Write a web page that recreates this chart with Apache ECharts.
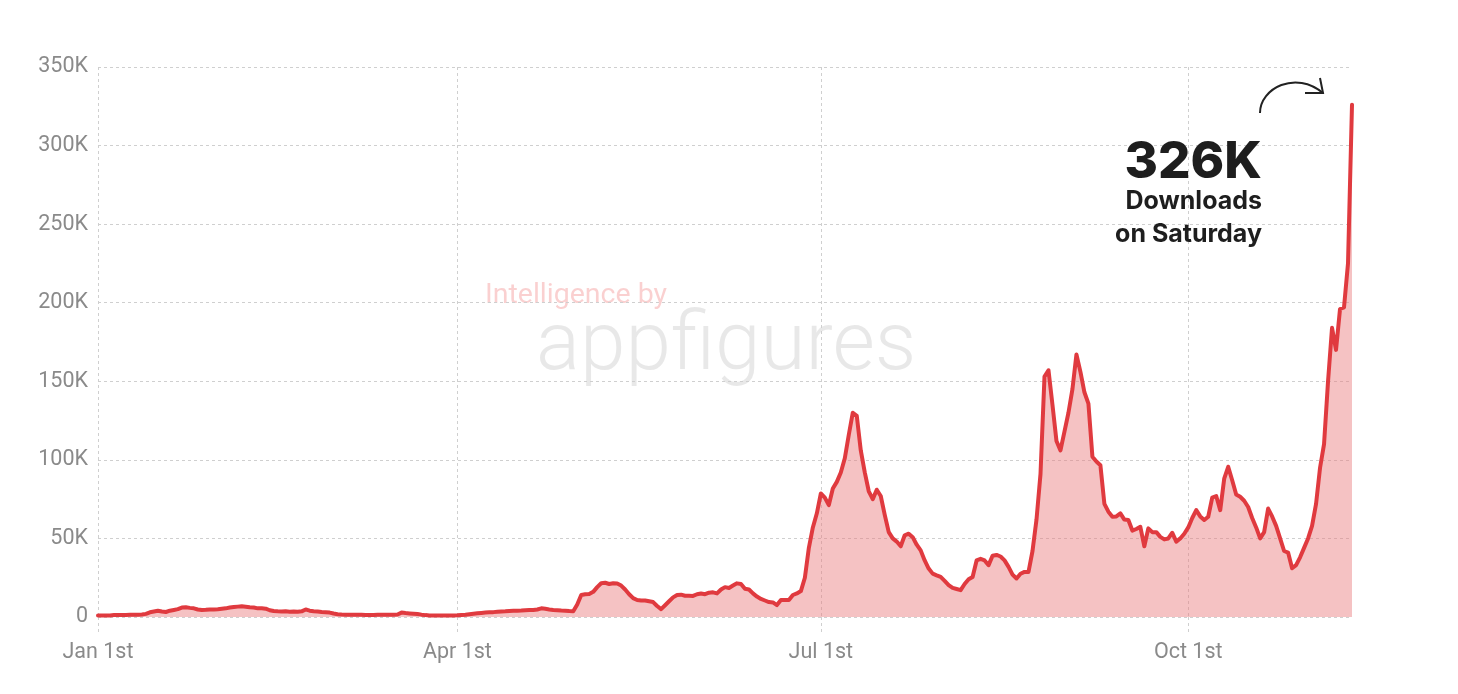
<!DOCTYPE html>
<html>
<head>
<meta charset="utf-8">
<title>Daily downloads</title>
<script src="https://cdn.jsdelivr.net/npm/echarts@6/dist/echarts.min.js"></script>
<style>
  html, body { margin: 0; padding: 0; background: #ffffff; }
  #chart { width: 1458px; height: 694px; }
</style>
</head>
<body>
<div id="chart"></div>
<script>
// daily downloads in thousands, 2023, one array per month
const jan = [1, 1, 1, 1, 1.2, 1.2, 1.3, 1.3, 1.4, 1.5, 1.5, 1.6, 2, 3, 3.5, 4, 3.5, 3.2, 4, 4.5, 5, 6, 6.2, 5.8, 5.5, 4.8, 4.5, 4.6, 4.8, 4.7, 4.9]
const feb = [5.2, 5.5, 6, 6.3, 6.6, 6.8, 6.5, 6.2, 6, 5.5, 5.6, 5.3, 4.3, 3.8, 3.6, 3.5, 3.6, 3.4, 3.5, 3.3, 3.6, 4.8, 4, 3.7, 3.5, 3.2, 3.0, 2.8]
const mar = [2.2, 1.8, 1.6, 1.5, 1.5, 1.4, 1.4, 1.4, 1.3, 1.3, 1.3, 1.4, 1.4, 1.4, 1.4, 1.5, 1.6, 2.8, 2.5, 2.3, 2.1, 1.9, 1.5, 1.2, 1.0, 1.0, 0.9, 0.9, 0.9, 1.0, 1.0]
const apr = [1.1, 1.3, 1.5, 1.8, 2.1, 2.4, 2.6, 2.8, 3.0, 3.1, 3.3, 3.5, 3.6, 3.8, 3.9, 4.0, 4.1, 4.3, 4.4, 4.5, 4.8, 5.5, 5.2, 4.8, 4.5, 4.3, 4.1, 4.0, 3.8, 3.7]
const may = [8, 14, 14.5, 14.6, 16, 19, 21.5, 21.8, 21, 21.5, 21.3, 20, 17.5, 14.5, 12, 10.8, 10.5, 10.5, 10, 9.5, 7, 5, 7.5, 10, 12.5, 14, 14.2, 13.5, 13.5, 13.4, 14.5]
const jun = [15, 14.5, 15.5, 15.7, 15, 17.5, 19, 18.5, 20, 21.4, 21, 18, 17.5, 15, 13, 11.5, 10.5, 9.5, 9.3, 7.6, 10.8, 10.8, 10.8, 14, 15, 16.5, 25, 44, 57, 66]
const jul = [78.6, 76, 71.2, 81.8, 86, 92, 101, 116, 130, 128, 106, 92, 80, 75, 81, 77, 65, 54, 50, 48, 45, 52, 53, 50.8, 46, 42.4, 36, 30.8, 27.6, 26.5, 25.5]
const aug = [23, 20.3, 18.5, 17.8, 17.1, 21, 24, 25.5, 36, 37, 36, 33, 39, 39.5, 38.5, 36, 31.9, 27, 24.5, 27.5, 28.7, 28.7, 42, 62, 91, 153, 157, 135, 112, 106, 118]
const sep = [130, 145, 167, 156, 143, 135.8, 102, 99, 96.6, 72, 67, 63.8, 64, 65.9, 62, 61.7, 55, 56, 57.4, 45, 56.4, 54, 54, 51, 49.4, 50, 53.6, 48, 50, 53]
const oct = [57, 63, 68, 64, 61.7, 63.8, 76, 77, 68, 88, 95.6, 87, 78, 76.5, 74, 70, 63, 57, 50, 54, 69, 64, 58, 50, 42, 41, 31, 33, 38, 44, 50]
const nov = [58, 72, 95, 110, 150, 184, 170, 196, 197, 225, 326]

const months = [jan, feb, mar, apr, may, jun, jul, aug, sep, oct, nov]
const tickDates = ['2023-01-01', '2023-04-01', '2023-07-01', '2023-10-01']
const tickLabels = ['Jan 1st', 'Apr 1st', 'Jul 1st', 'Oct 1st']

const days = []
const downloads = []
months.forEach((list, m) => {
  list.forEach((v, i) => {
    const mm = String(m + 1).padStart(2, '0')
    const dd = String(i + 1).padStart(2, '0')
    days.push('2023-' + mm + '-' + dd)
    downloads.push(v)
  })
})

const isTick = (idx) => tickDates.indexOf(days[idx]) !== -1

const gridLine = { color: '#cfcfcf', type: [3, 3], width: 1 }
const ink = '#1e1e1e'

const chart = echarts.init(document.getElementById('chart'))

chart.setOption({
  animation: false,
  backgroundColor: '#ffffff',
  grid: { left: 98, right: 106, top: 67, bottom: 77 },
  xAxis: {
    type: 'category',
    data: days,
    boundaryGap: false,
    axisLine: { show: false },
    axisTick: {
      show: true,
      length: 16,
      interval: (idx) => isTick(idx),
      lineStyle: gridLine
    },
    axisLabel: {
      interval: (idx) => isTick(idx),
      formatter: (val) => tickLabels[tickDates.indexOf(val)],
      color: '#8a8a8a',
      fontSize: 21.5,
      fontFamily: 'Roboto',
      margin: 25
    },
    splitLine: {
      show: true,
      interval: (idx) => isTick(idx),
      lineStyle: gridLine
    }
  },
  yAxis: {
    type: 'value',
    min: 0,
    max: 350,
    interval: 50,
    axisLine: { show: false },
    axisTick: { show: false },
    axisLabel: {
      formatter: (v) => (v === 0 ? '0' : v + 'K'),
      color: '#8a8a8a',
      fontSize: 21.5,
      fontFamily: 'Roboto',
      margin: 10
    },
    splitLine: { lineStyle: gridLine }
  },
  graphic: [
    // watermark
    {
      type: 'text',
      x: 485,
      y: 281,
      z: 0,
      style: {
        text: 'Intelligence by',
        font: '400 28.5px Roboto',
        fill: 'rgba(240, 100, 100, 0.3)'
      }
    },
    {
      type: 'text',
      x: 536,
      y: 307,
      z: 0,
      style: {
        text: 'appfigures',
        font: '300 82px Roboto',
        fill: 'rgba(150, 150, 150, 0.22)'
      }
    },
    // callout
    {
      type: 'text',
      x: 1262,
      y: 137,
      z: 10,
      style: {
        text: '326K',
        font: '800 51px Inter',
        fill: ink,
        align: 'right'
      }
    },
    {
      type: 'text',
      x: 1262,
      y: 189,
      z: 10,
      style: {
        text: 'Downloads',
        font: '700 25px Inter',
        fill: ink,
        align: 'right'
      }
    },
    {
      type: 'text',
      x: 1262,
      y: 222,
      z: 10,
      style: {
        text: 'on Saturday',
        font: '700 25px Inter',
        fill: ink,
        align: 'right'
      }
    },
    {
      type: 'bezierCurve',
      z: 10,
      shape: { x1: 1260, y1: 113, cpx1: 1260, cpy1: 88, cpx2: 1296, cpy2: 70, x2: 1323, y2: 93 },
      style: { fill: 'none', stroke: '#222222', lineWidth: 2 }
    },
    {
      type: 'polyline',
      z: 10,
      shape: { points: [[1305, 93], [1323, 93], [1320, 78]] },
      style: { fill: 'none', stroke: '#222222', lineWidth: 2 }
    }
  ],
  series: [
    {
      name: 'Downloads',
      type: 'line',
      data: downloads,
      showSymbol: false,
      smooth: false,
      z: 5,
      lineStyle: { color: '#e03a3f', width: 4, join: 'round', cap: 'round' },
      itemStyle: { color: '#e03a3f' },
      areaStyle: { color: 'rgba(232, 120, 122, 0.45)', opacity: 1 }
    }
  ]
})
</script>
</body>
</html>
